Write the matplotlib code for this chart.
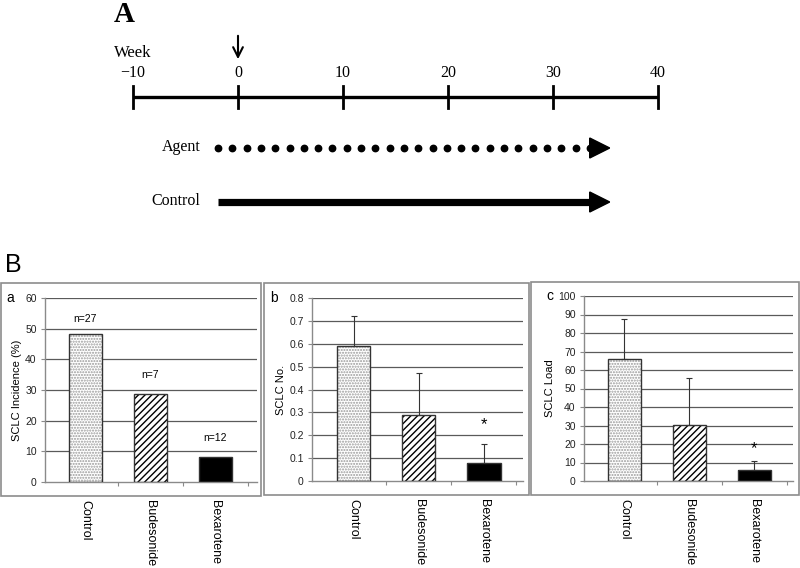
import numpy as np
import matplotlib
matplotlib.use("Agg")
import matplotlib.pyplot as plt
from matplotlib.patches import Rectangle, Polygon

# ---------------- data ----------------
week_ticks = [-10, 0, 10, 20, 30, 40]
treat_start, treat_end = -1.9, 35.4
categories = ["Control", "Budesonide", "Bexarotene"]
incidence = [48.1, 28.6, 8.3]
n_labels = ["n=27", "n=7", "n=12"]
sclc_no = [0.59, 0.29, 0.08]
sclc_no_err = [0.13, 0.18, 0.08]
sclc_load = [66.0, 30.5, 6.0]
sclc_load_err = [21.5, 25.0, 5.0]

W, H = 800, 568
fig = plt.figure(figsize=(8, 5.68), dpi=100)
fig.patch.set_facecolor("white")

def rect(l, t, r, b):
    return [l / W, 1 - b / H, (r - l) / W, (b - t) / H]

# ---------------- Panel A ----------------
px_per_week = (658 - 133) / 50.0
x_left = -10 - 133 / px_per_week
x_right = 40 + (W - 658) / px_per_week
axA = fig.add_axes(rect(0, 0, W, 250))
axA.set_xlim(x_left, x_right)
axA.set_ylim(250, 0)
axA.axis("off")
serif = "Liberation Serif"

axA.text(-10.8, 15, "A", fontsize=21, fontweight="bold", family=serif, ha="center", va="center")
axA.text(-10, 53, "Week", fontsize=12, family=serif, ha="center", va="center")
axA.plot([week_ticks[0], week_ticks[-1]], [97, 97], color="black", lw=2.4, solid_capstyle="butt")
for wk in week_ticks:
    axA.plot([wk, wk], [86, 108], color="black", lw=2.0)
    lab = "\u221210" if wk < 0 else str(wk)
    axA.text(wk, 73, lab, fontsize=11.5, family=serif, ha="center", va="center")
axA.annotate("", xy=(0, 62), xytext=(0, 33),
             arrowprops=dict(arrowstyle="->,head_length=0.7,head_width=0.35", lw=1.5, color="black"))

head_len = 20 / px_per_week
# Agent (dotted)
dots = np.arange(treat_start, treat_end - head_len + 0.1, 14.3 / px_per_week)
axA.plot(dots, np.full_like(dots, 148), "o", color="black", ms=4.6, mec="black")
axA.add_patch(Polygon([[treat_end - head_len, 138], [treat_end, 148], [treat_end - head_len, 158]],
                      closed=True, color="black"))
axA.text(treat_start - 1.7, 147, "Agent", fontsize=11.5, family=serif, ha="right", va="center")
# Control (solid)
axA.plot([treat_start, treat_end - head_len + 0.2], [202, 202], color="black", lw=5.2, solid_capstyle="butt")
axA.add_patch(Polygon([[treat_end - head_len, 192], [treat_end, 202], [treat_end - head_len, 212]],
                      closed=True, color="black"))
axA.text(treat_start - 1.7, 201, "Control", fontsize=11.5, family=serif, ha="right", va="center")

# ---------------- Panel B ----------------
sans = "Liberation Sans"
fig.text(5 / W, 1 - 265 / H, "B", fontsize=18, family=sans, ha="left", va="center")

# panel boxes
for (l, t, r, b) in [(1, 283, 261, 496), (264, 283, 529, 495), (531, 282, 799, 495)]:
    fig.add_artist(Rectangle((l / W, 1 - b / H), (r - l) / W, (b - t) / H,
                             transform=fig.transFigure, fill=False, ec="#8c8c8c", lw=1.2))

grid_c = "#5a5a5a"
spine_c = "#8a8a8a"

def draw_panel(box, xl, vals, ymax, ystep, fmt, ylabel, letter, letter_x, err=None, star=None, nlab=None):
    ax = fig.add_axes(rect(*box))
    x = np.arange(len(vals))
    ax.set_xlim(*xl)
    ax.set_ylim(0, ymax)
    yt = np.arange(0, ymax + ystep / 2, ystep)
    ax.set_yticks(yt)
    ax.set_yticklabels([fmt(v) for v in yt], fontsize=7.5, family=sans, color="#222222")
    for v in yt[1:]:
        ax.axhline(v, color=grid_c, lw=0.9, zorder=0)
    for s in ["top", "right"]:
        ax.spines[s].set_visible(False)
    ax.spines["left"].set_color(spine_c)
    ax.spines["bottom"].set_color(spine_c)
    ax.spines["left"].set_linewidth(1.0)
    ax.spines["bottom"].set_linewidth(1.0)
    ax.tick_params(axis="y", length=3, width=0.8, color=spine_c, pad=3)
    ax.set_xticks(x)
    ax.set_xticklabels(categories, rotation=-90, fontsize=9, family=sans, va="top", ha="center")
    ax.tick_params(axis="x", length=0, pad=13)
    ax.set_xticks([0.5, 1.5, 2.5], minor=True)
    ax.tick_params(axis="x", which="minor", length=3, color=spine_c, width=0.8)
    bw = 0.51
    ax.bar(x[0], vals[0], bw, color="white", edgecolor="#9a9a9a", hatch="......", lw=0, zorder=2)
    ax.bar(x[1], vals[1], bw, color="white", edgecolor="black", hatch="/////", lw=0, zorder=2)
    ax.bar(x[2], vals[2], bw, color="black", edgecolor="black", lw=0, zorder=2)
    ax.bar(x, vals, bw, fill=False, edgecolor="#333333", lw=1.0, zorder=3)
    if err is not None:
        ax.errorbar(x, vals, yerr=[[0] * len(vals), err], fmt="none", ecolor="#333333",
                    elinewidth=0.8, capsize=2.2, capthick=0.8, zorder=4)
    if star is not None:
        ax.text(2, star, "*", fontsize=12, family=sans, ha="center", va="center")
    if nlab is not None:
        for xi, (lab, yv) in enumerate(zip(nlab, [53, 35, 14.5])):
            ax.text(xi, yv, lab, fontsize=7.5, family=sans, ha="center", va="center")
    ax.set_ylabel(ylabel, fontsize=8, family=sans, labelpad=2.5)
    ax.text(letter_x, ymax, letter, fontsize=10, family=sans, ha="left", va="center",
            transform=ax.transData, clip_on=False)
    return ax

draw_panel((45, 298, 257, 482), (-0.62, 2.64), incidence, 60, 10, lambda v: f"{int(v)}",
           "SCLC Incidence (%)", "a", -1.22, nlab=n_labels)
draw_panel((312, 298, 523, 481), (-0.64, 2.6), sclc_no, 0.8, 0.1,
           lambda v: "0" if v == 0 else f"{v:.1f}", "SCLC No.", "b", -1.28,
           err=sclc_no_err, star=0.245)
draw_panel((584, 296, 793, 481), (-0.62, 2.6), sclc_load, 100, 10, lambda v: f"{int(v)}",
           "SCLC Load", "c", -1.2, err=sclc_load_err, star=17.5)

fig.savefig("out.png", dpi=100, facecolor="white")
